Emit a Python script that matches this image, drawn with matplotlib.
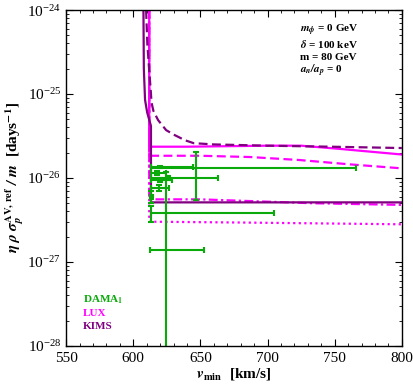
"""Recreate the DAMA / LUX / KIMS eta-plot (inelastic, m = 80 GeV)."""

import numpy as np
import matplotlib

matplotlib.use("Agg")
import matplotlib.pyplot as plt
from matplotlib.ticker import FixedLocator, MultipleLocator, NullFormatter

plt.rcParams["font.family"] = ["Liberation Serif", "DejaVu Serif"]
plt.rcParams["mathtext.fontset"] = "stix"

GREEN = "#0aaa0a"
MAGENTA = "#ff00ff"
PURPLE = "#800080"

# KIMS (solid purple, upper bound) and its dashed variant
kims_v = [607.6, 607.9, 608.8, 610.4, 613.2, 613.2, 800.0]
kims_log = [-24.0, -24.7, -25.07, -25.22, -25.38, -26.29, -26.29]
kims_dash_v = [609.6, 610.5, 611.8, 613.0, 613.6, 615.0, 618.5, 624.5, 631.0,
               638.5, 645.0, 660.0, 700.0, 750.0, 800.0]
kims_dash_log = [-24.0, -24.4, -24.7, -24.95, -25.1, -25.2, -25.31, -25.43, -25.49,
                 -25.55, -25.585, -25.6, -25.615, -25.628, -25.643]

# LUX bounds (solid, dashed, dash-dot, dotted)
lux_solid_v = [611.9, 611.9, 640.0, 700.0, 725.0, 755.0, 800.0]
lux_solid_log = [-24.0, -25.627, -25.627, -25.615, -25.615, -25.655, -25.72]
lux_dash_v = [611.9, 611.9, 650.0, 687.0, 724.0, 761.0, 800.0]
lux_dash_log = [-24.0, -25.735, -25.735, -25.75, -25.786, -25.837, -25.885]
lux_dashdot_v = [611.9, 611.9, 650.0, 733.0, 800.0]
lux_dashdot_log = [-24.0, -26.254, -26.254, -26.30, -26.32]
lux_dot_v = [611.9, 611.9, 680.0, 800.0]
lux_dot_log = [-24.0, -26.52, -26.53, -26.551]

# DAMA_1 bins: v range, vertical bar position, value, error
dama_vlo = [613.5, 613.5, 613.5, 613.5, 613.5, 613.5, 613.0, 612.8, 612.5]
dama_vhi = [765.8, 663.3, 644.5, 624.4, 628.5, 626.5, 704.8, 614.5, 652.7]
dama_vc = [646.4, 626.0, 620.0, 618.0, 620.0, 619.0, 613.5, 613.5, 624.4]
dama_val = [1.30e-26, 1.0e-26, 1.35e-26, 1.15e-26, 9.5e-27, 7.7e-27, 3.8e-27, 6.0e-27, 1.39e-27]
dama_err = [0.76e-26, 0.05e-26, 0.05e-26, 0.05e-26, 0.05e-26, 0.06e-26, 0.8e-27, 1.0e-27, 1.05e-26]

y_major = [1e-28, 1e-27, 1e-26, 1e-25, 1e-24]

fig = plt.figure(figsize=(4.13, 3.87), dpi=100)
ax = fig.add_axes([0.160, 0.106, 0.813, 0.868])

lw = 1.6
ax.plot(lux_dot_v, 10 ** np.array(lux_dot_log), color=MAGENTA, lw=lw, ls=(0, (1, 1.5)))
ax.plot(lux_dashdot_v, 10 ** np.array(lux_dashdot_log), color=MAGENTA, lw=lw, ls=(0, (4, 1.5, 1, 1.5)))
ax.plot(lux_dash_v, 10 ** np.array(lux_dash_log), color=MAGENTA, lw=lw, ls=(0, (4, 2)))
ax.plot(lux_solid_v, 10 ** np.array(lux_solid_log), color=MAGENTA, lw=lw)
ax.plot(kims_dash_v, 10 ** np.array(kims_dash_log), color=PURPLE, lw=lw, ls=(0, (4, 2)))
ax.plot(kims_v, 10 ** np.array(kims_log), color=PURPLE, lw=lw)

for lo, hi, vc, val, err in zip(dama_vlo, dama_vhi, dama_vc, dama_val, dama_err):
    ax.errorbar([vc], [val], xerr=[[vc - lo], [hi - vc]], yerr=[[err], [err]],
                color=GREEN, lw=1.5, capsize=2, capthick=1.5, fmt="none")

ax.set_yscale("log")
ax.set_xlim(550, 800)
ax.set_ylim(y_major[0], y_major[-1])

ax.xaxis.set_major_locator(MultipleLocator(50))
ax.xaxis.set_minor_locator(MultipleLocator(10))
ax.yaxis.set_major_locator(FixedLocator(y_major))
ax.yaxis.set_minor_locator(FixedLocator([m * d for d in y_major[:-1] for m in range(2, 10)]))
ax.yaxis.set_minor_formatter(NullFormatter())
ax.tick_params(which="both", direction="in", top=True, right=True, labelsize=11)
ax.tick_params(which="major", length=5, width=0.8)
ax.tick_params(which="minor", length=2.5, width=0.6)
ax.tick_params(axis="x", pad=4)
for s in ax.spines.values():
    s.set_linewidth(1.0)

ax.set_xlabel(r"$\mathbfit{v}_{\mathbf{min}}$  [km/s]", fontsize=11, fontweight="bold", labelpad=1)
ax.set_ylabel(r"$\mathbfit{\eta\ \rho\ \sigma_p^{\mathbf{AV,\,ref}}\ /\ m}$  [days$^{\mathbf{-1}}$]",
              fontsize=11, fontweight="bold", labelpad=1)

notes = [r"$\mathbfit{m_\phi}$ = 0 GeV", r"$\mathbfit{\delta}$ = 100 keV",
         "m = 80 GeV", r"$\mathbfit{a_n/a_p}$ = 0"]
for i, s in enumerate(notes):
    ax.text(0.696, 0.94 - 0.04 * i, s, transform=ax.transAxes, fontsize=8,
            fontweight="bold", va="center")

legend = [(r"DAMA$_\mathbf{1}$", GREEN), ("LUX", MAGENTA), ("KIMS", PURPLE)]
for i, (s, c) in enumerate(legend):
    ax.text(0.05, 0.137 - 0.04 * i, s, transform=ax.transAxes, fontsize=8,
            fontweight="bold", color=c, va="center")

fig.savefig("out.png", dpi=100)
